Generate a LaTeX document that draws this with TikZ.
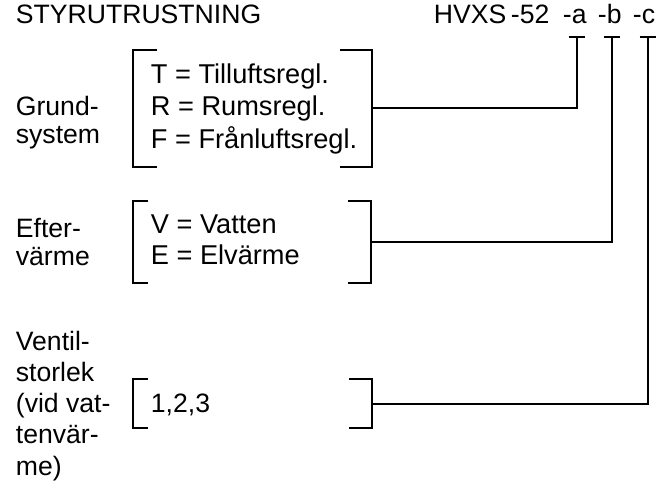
\documentclass[tikz,border=0pt]{standalone}
\usepackage{fontspec}
\setmainfont{Liberation Sans}

\begin{document}
\begin{tikzpicture}[x=0.5pt,y=-0.5pt,line width=0.9pt]

      \useasboundingbox (0,0) rectangle (670,489);

      \begin{scope}[every node/.style={inner sep=0pt,anchor=base west,align=left,
          font=\fontsize{13.3}{15.6}\selectfont}]
        \node (title) at (15,23)  {STYRUTRUSTNING};
        \node (hvxs)  at (433,23) {HVXS};
        \node (c52)   at (510,23) {-52};
        \node (ca)    at (562,23) {-a};
        \node (cb)    at (597,23) {-b};
        \node (cc)    at (632,23) {-c};

        % base = sista radens baslinje
        \node[font=\fontsize{13.3}{14}\selectfont] (grund) at (15,143) {Grund-\\system};
        \node[font=\fontsize{13.3}{14}\selectfont] (efter) at (15,265) {Efter-\\värme};
        \node (ventil) at (15,475) {Ventil-\\storlek\\(vid vat-\\tenvär-\\me)};

        \node[font=\fontsize{13.6}{16.2}\selectfont] (gsval) at (150,148)
          {T = Tilluftsregl.\\R = Rumsregl.\\F = Frånluftsregl.};
        \node[font=\fontsize{13.6}{15.5}\selectfont] (evval) at (150,264)
          {V = Vatten\\E = Elvärme};
        \node (vsval) at (150,412) {1,2,3};
      \end{scope}

      % klamrar
      \draw (157,50) -- (133,50) -- (133,167) -- (157,167);
      \draw (340,50) -- (372,50) -- (372,167) -- (340,167);
      \draw (148,201) -- (133,201) -- (133,283) -- (148,283);
      \draw (348,201) -- (371,201) -- (371,283) -- (348,283);
      \draw (148,379) -- (133,379) -- (133,428) -- (148,428);
      \draw (349,379) -- (372,379) -- (372,428) -- (349,428);

      \coordinate (gsR) at (372,108);
      \coordinate (evR) at (371,242);
      \coordinate (vsR) at (372,404);

      \coordinate (ta) at (577,37);
      \coordinate (tb) at (612,37);
      \coordinate (tc) at (648,37);

      \foreach \t in {ta,tb,tc}
        \draw ([xshift=-4.2pt]\t) -- ([xshift=4.2pt]\t);

      \draw (gsR) -| (ta);
      \draw (evR) -| (tb);
      \draw (vsR) -| (tc);

    \end{tikzpicture}
\end{document}
